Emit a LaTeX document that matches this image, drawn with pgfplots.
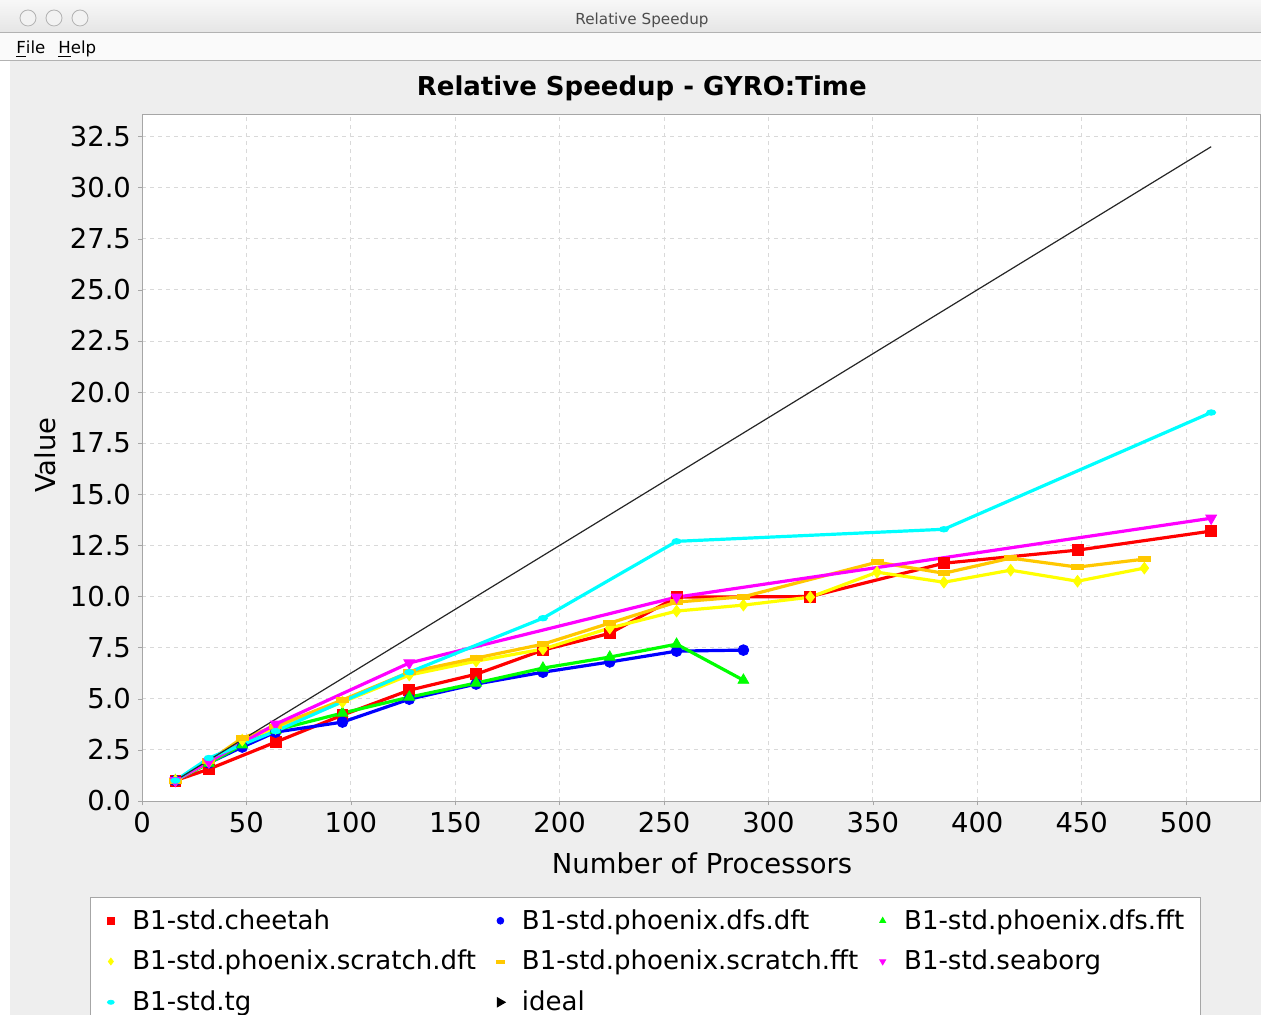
\documentclass[border=0pt]{standalone}
\usepackage{fontspec}
\setmainfont{DejaVu Sans}
\usepackage{pgfplots}
\pgfplotsset{compat=1.18}

\definecolor{jred}{RGB}{255,0,0}
\definecolor{jblue}{RGB}{0,0,255}
\definecolor{jgreen}{RGB}{0,255,0}
\definecolor{jyellow}{RGB}{255,255,0}
\definecolor{jorange}{RGB}{255,200,0}
\definecolor{jmagenta}{RGB}{255,0,255}
\definecolor{jcyan}{RGB}{0,255,255}
\definecolor{panel}{RGB}{238,238,238}

\begin{document}
\begin{tikzpicture}
% window frame, 1 px of the screenshot = 0.5 pt
\path[use as bounding box] (0pt,0pt) rectangle (630.5pt,-507.5pt);
\fill[white] (0pt,0pt) rectangle (630.5pt,-507.5pt);
\shade[top color=gray!6, bottom color=gray!20] (0pt,0pt) rectangle (630.5pt,-16pt);
\foreach \cx in {14,27,40} \draw[gray!60, fill=gray!10] (\cx pt,-9pt) circle (4pt);
\node[font=\fontsize{7.6}{9}\selectfont, text=black!70] at (321pt,-10pt) {Relative Speedup};
\draw[gray!60] (0pt,-16pt) -- (630.5pt,-16pt);
\fill[gray!4] (0pt,-16.3pt) rectangle (630.5pt,-30pt);
\node[anchor=base west, inner sep=0pt, font=\fontsize{8.3}{10}\selectfont] at (8pt,-27pt) {\underline{F}ile};
\node[anchor=base west, inner sep=0pt, font=\fontsize{8.3}{10}\selectfont] at (29pt,-27pt) {\underline{H}elp};
\draw[gray!60] (0pt,-30pt) -- (630.5pt,-30pt);
\fill[panel] (5pt,-30.5pt) rectangle (630.5pt,-507.5pt);

\begin{axis}[
  at={(71pt,-400.5pt)}, anchor=south west,
  width=559pt, height=343.5pt, scale only axis,
  xmin=0, xmax=535.4, ymin=0, ymax=33.6,
  axis background/.style={fill=white},
  axis line style={gray!70},
  xtick={0,50,100,150,200,250,300,350,400,450,500},
  ytick={0,2.5,5,7.5,10,12.5,15,17.5,20,22.5,25,27.5,30,32.5},
  yticklabel style={/pgf/number format/.cd,fixed,fixed zerofill,precision=1},
  /pgf/number format/assume math mode=true,
  tick label style={font=\fontsize{13.7}{16}\selectfont},
  label style={font=\fontsize{13.7}{16}\selectfont},
  tick align=outside, major tick length=2pt, tick style={gray!70},
  xtick pos=bottom, ytick pos=left,
  grid=major,
  major grid style={gray!30, dash pattern=on 2pt off 2pt, line width=0.4pt},
  title={Relative Speedup - GYRO:Time},
  title style={at={(axis description cs:0.447,1.0204)}, anchor=center,
    font=\bfseries\fontsize{13}{15}\selectfont},
  xlabel={Number of Processors},
  ylabel={Value},
  xlabel style={at={(axis description cs:0.5009,-0.0902)}, anchor=center},
  ylabel style={at={(axis description cs:-0.0868,0.5036)}, anchor=center},
  legend columns=3,
  legend cell align=left,
  legend style={at={(axis description cs:-0.0465,-0.1397)}, anchor=north west,
    draw=gray!70, fill=white, font=\fontsize{13}{15}\selectfont,
    row sep=5pt, inner xsep=6pt, inner ysep=4pt,
    /tikz/every even column/.append style={column sep=6pt}},
  legend image code/.code={\path (-0.12cm,0cm) (0.28cm,0cm);
    \draw[#1, mark size=1.7pt] plot coordinates {(0cm,0cm)};},
  every axis plot/.append style={line width=1.6pt},
]
\addplot[jred, mark=square*, mark size=2.7pt, mark options={line width=0.4pt}] coordinates {
  (16,1.0) (32,1.56) (64,2.88) (96,4.2) (128,5.42) (160,6.2) (192,7.38) (224,8.2)
  (256,9.97) (320,10.0) (384,11.63) (448,12.27) (512,13.2)};
\addlegendentry{B1-std.cheetah}
\addplot[jblue, mark=*, mark size=2.7pt, mark options={line width=0.4pt}] coordinates {
  (16,1.0) (32,1.86) (48,2.64) (64,3.37) (96,3.86) (128,4.98) (160,5.72) (192,6.3)
  (224,6.8) (256,7.33) (288,7.38)};
\addlegendentry{B1-std.phoenix.dfs.dft}
\addplot[jgreen, mark=triangle*, mark size=3.1pt, mark options={line width=0.4pt}] coordinates {
  (16,1.0) (32,1.85) (48,2.75) (64,3.47) (96,4.3) (128,5.08) (160,5.77) (192,6.5)
  (224,7.04) (256,7.67) (288,5.91)};
\addlegendentry{B1-std.phoenix.dfs.fft}
\addplot[jyellow, mark=diamond*, mark size=2.9pt, mark options={line width=0.4pt}] coordinates {
  (16,1.0) (32,1.9) (48,2.98) (64,3.55) (96,4.84) (128,6.16) (160,6.84) (192,7.43)
  (224,8.46) (256,9.29) (288,9.58) (320,9.97) (352,11.19) (384,10.7) (416,11.29)
  (448,10.75) (480,11.39)};
\addlegendentry{B1-std.phoenix.scratch.dft}
\addplot[jorange, mark=square*, mark size=2.7pt, mark options={line width=0.4pt, yscale=0.45, xscale=1.1}] coordinates {
  (16,1.0) (32,1.95) (48,3.08) (64,3.65) (96,4.94) (128,6.3) (160,6.99) (192,7.67)
  (224,8.7) (256,9.73) (288,9.99) (352,11.68) (384,11.14) (416,11.88) (448,11.44)
  (480,11.83)};
\addlegendentry{B1-std.phoenix.scratch.fft}
\addplot[jmagenta, mark=triangle*, mark size=3.1pt, mark options={line width=0.4pt, rotate=180}] coordinates {
  (16,1.0) (32,1.92) (64,3.76) (128,6.75) (256,9.97) (512,13.83)};
\addlegendentry{B1-std.seaborg}
\addplot[jcyan, mark=*, mark size=2.3pt, mark options={line width=0.4pt, yscale=0.6}] coordinates {
  (16,1.0) (32,2.1) (64,3.42) (128,6.3) (192,8.94) (256,12.7) (384,13.29) (512,19.0)};
\addlegendentry{B1-std.tg}
\addplot[black!85, line width=0.6pt, mark=none,
  legend image code/.code={\path (-0.12cm,0cm) (0.28cm,0cm);
    \fill[black] (-0.05cm,-0.075cm) -- (0.08cm,0cm) -- (-0.05cm,0.075cm) -- cycle;}]
  coordinates {(16,1) (512,32)};
\addlegendentry{ideal}
\end{axis}
\end{tikzpicture}
\end{document}
